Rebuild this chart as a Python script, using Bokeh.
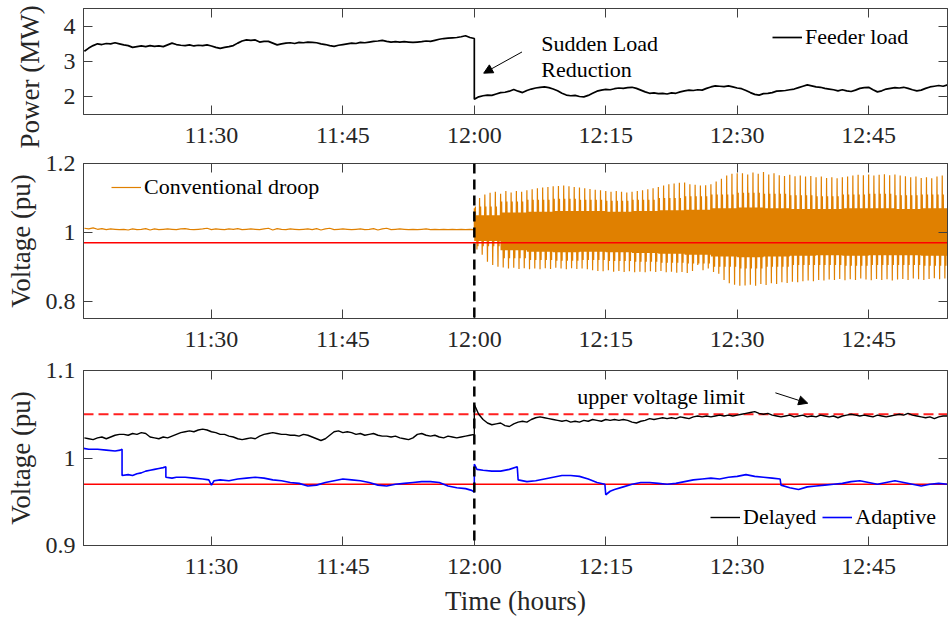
import numpy as np
from bokeh.plotting import figure
from bokeh.layouts import column
from bokeh.models import Range1d, FixedTicker, LinearAxis, Span, Legend, LegendItem, Arrow, NormalHead, Title
from bokeh.core.properties import value
from bokeh.embed import file_html
from bokeh.resources import INLINE

FONT = "Liberation Serif"

# ---------------- data (minutes relative to 12:00) ----------------
tick_minutes = [-30, -15, 0, 15, 30, 45]
tick_labels = ["11:30", "11:45", "12:00", "12:15", "12:30", "12:45"]
x_start, x_end = -44.6, 54.0
sample_step = 0.5

power_pre = [3.29, 3.38, 3.45, 3.50, 3.48, 3.51, 3.50, 3.53, 3.50, 3.47,
             3.45, 3.40, 3.42, 3.44, 3.42, 3.45, 3.43, 3.44, 3.42, 3.47,
             3.52, 3.48, 3.46, 3.45, 3.47, 3.44, 3.46, 3.45, 3.47, 3.44,
             3.40, 3.37, 3.40, 3.42, 3.45, 3.52, 3.58, 3.61, 3.60, 3.61,
             3.55, 3.57, 3.57, 3.52, 3.47, 3.50, 3.52, 3.53, 3.51, 3.54,
             3.53, 3.55, 3.54, 3.53, 3.50, 3.48, 3.45, 3.43, 3.46, 3.48,
             3.50, 3.52, 3.51, 3.54, 3.53, 3.55, 3.57, 3.58, 3.60, 3.57,
             3.55, 3.56, 3.55, 3.56, 3.55, 3.54, 3.55, 3.56, 3.58, 3.57,
             3.60, 3.63, 3.65, 3.66, 3.67, 3.68, 3.70, 3.73, 3.68, 3.65]
power_post = [1.93, 2.00, 2.03, 2.05, 2.04, 2.08, 2.12, 2.13, 2.16, 2.21,
              2.16, 2.12, 2.18, 2.22, 2.25, 2.27, 2.28, 2.26, 2.22, 2.17,
              2.10, 2.05, 2.03, 2.04, 2.01, 2.00, 2.04, 2.10, 2.16, 2.19,
              2.21, 2.20, 2.23, 2.25, 2.24, 2.26, 2.27, 2.24, 2.19, 2.14,
              2.10, 2.11, 2.09, 2.10, 2.08, 2.11, 2.10, 2.14, 2.17, 2.19,
              2.18, 2.20, 2.19, 2.24, 2.28, 2.31, 2.30, 2.29, 2.31, 2.28,
              2.25, 2.23, 2.18, 2.12, 2.07, 2.05, 2.09, 2.10, 2.12, 2.16,
              2.17, 2.18, 2.20, 2.22, 2.26, 2.30, 2.34, 2.31, 2.28, 2.27,
              2.24, 2.22, 2.20, 2.17, 2.20, 2.17, 2.15, 2.19, 2.24, 2.26,
              2.27, 2.20, 2.14, 2.17, 2.22, 2.24, 2.26, 2.25, 2.27, 2.24,
              2.20, 2.17, 2.19, 2.24, 2.28, 2.30, 2.32, 2.30, 2.34]

conv_pre = [1.012, 1.010, 1.013, 1.009, 1.011, 1.008, 1.010, 1.009, 1.008, 1.009,
            1.007, 1.010, 1.008, 1.009, 1.011, 1.007, 1.010, 1.008, 1.009, 1.010,
            1.009, 1.008, 1.010, 1.011, 1.009, 1.008, 1.009, 1.010, 1.012, 1.008,
            1.010, 1.009, 1.008, 1.010, 1.009, 1.011, 1.008, 1.009, 1.010, 1.009,
            1.008, 1.010, 1.012, 1.007, 1.011, 1.009, 1.008, 1.010, 1.009, 1.008,
            1.009, 1.010, 1.008, 1.011, 1.007, 1.010, 1.012, 1.008, 1.009, 1.010,
            1.009, 1.008, 1.009, 1.010, 1.008, 1.009, 1.011, 1.007, 1.010, 1.012,
            1.008, 1.009, 1.010, 1.009, 1.008, 1.009, 1.008, 1.009, 1.010, 1.008,
            1.009, 1.008, 1.009, 1.008, 1.009, 1.008, 1.009, 1.008, 1.009, 1.008]
conv_cycle = 0.6
conv_hi = [1.07, 1.10, 1.11,
           1.115, 1.118, 1.112, 1.12, 1.116, 1.12, 1.118, 1.122,
           1.125, 1.128, 1.13, 1.132, 1.134, 1.135, 1.136, 1.134, 1.132, 1.13,
           1.128, 1.126, 1.124, 1.122, 1.12, 1.118, 1.12, 1.118, 1.116, 1.118,
           1.12, 1.122, 1.125, 1.128, 1.132, 1.136, 1.14, 1.142, 1.144,
           1.145, 1.14, 1.138, 1.136, 1.137, 1.14,
           1.148, 1.156, 1.165, 1.17, 1.172,
           1.172, 1.168, 1.174, 1.17, 1.175, 1.168, 1.172,
           1.166, 1.164, 1.167, 1.163, 1.165, 1.162, 1.164, 1.16, 1.162,
           1.158, 1.16, 1.157, 1.16, 1.162, 1.165,
           1.167, 1.166, 1.168, 1.165, 1.167, 1.169, 1.166, 1.168, 1.165,
           1.163, 1.16, 1.162, 1.158, 1.16, 1.157, 1.162, 1.165]
conv_lo = [0.95, 0.935, 0.915,
           0.905, 0.90, 0.898, 0.895, 0.897, 0.894, 0.896, 0.893,
           0.895, 0.893, 0.896, 0.894, 0.897, 0.895, 0.893, 0.896, 0.894, 0.895,
           0.893, 0.89, 0.888, 0.887, 0.89, 0.886, 0.888, 0.885, 0.887, 0.884,
           0.886, 0.884, 0.887, 0.885, 0.888, 0.884, 0.886, 0.883, 0.885, 0.882,
           0.888, 0.905, 0.89, 0.895, 0.885, 0.88,
           0.862, 0.852, 0.848, 0.845, 0.846, 0.848, 0.845, 0.85, 0.847, 0.852, 0.85,
           0.855, 0.853, 0.857, 0.855, 0.858, 0.86, 0.858, 0.862, 0.86,
           0.863, 0.862, 0.865, 0.861, 0.864, 0.862, 0.866, 0.863, 0.861, 0.865,
           0.862, 0.864, 0.86, 0.863, 0.865, 0.862, 0.866, 0.864, 0.862, 0.865,
           0.867, 0.864, 0.866]
# secondary levels of the oscillation, one value per block of 5 cycles
conv_band_top = [1.05, 1.058, 1.06, 1.062, 1.062, 1.06, 1.062, 1.064, 1.066,
                 1.07, 1.072, 1.07, 1.068, 1.068, 1.07, 1.07, 1.068, 1.07]
conv_band_bot = [0.975, 0.948, 0.944, 0.942, 0.944, 0.942, 0.94, 0.938, 0.935,
                 0.93, 0.928, 0.93, 0.932, 0.934, 0.932, 0.934, 0.934, 0.932]
conv_mid_hi = [1.075, 1.09, 1.095, 1.098, 1.095, 1.092, 1.095, 1.1, 1.105,
               1.11, 1.115, 1.112, 1.108, 1.105, 1.11, 1.112, 1.108, 1.11]
conv_mid_lo = [0.96, 0.925, 0.92, 0.918, 0.92, 0.917, 0.915, 0.912, 0.91,
               0.9, 0.895, 0.9, 0.905, 0.905, 0.903, 0.905, 0.905, 0.903]

delayed_pre = [1.023, 1.022, 1.021, 1.023, 1.024, 1.022, 1.024, 1.026,
               1.027, 1.027, 1.026, 1.028, 1.027, 1.029, 1.028, 1.024,
               1.023, 1.022, 1.024, 1.023, 1.025, 1.027, 1.029,
               1.030, 1.031, 1.030, 1.032, 1.033, 1.032, 1.030, 1.029,
               1.027, 1.027, 1.025, 1.024, 1.022, 1.021, 1.022, 1.023,
               1.022, 1.025, 1.027, 1.028, 1.029, 1.028, 1.027,
               1.027, 1.026, 1.026, 1.025, 1.027, 1.026, 1.024, 1.022,
               1.020, 1.022, 1.026, 1.030, 1.031, 1.029, 1.030,
               1.029, 1.027, 1.028, 1.026, 1.027, 1.028, 1.026, 1.025,
               1.025, 1.024, 1.025, 1.023, 1.022, 1.021, 1.023, 1.027,
               1.028, 1.026, 1.025, 1.026, 1.024, 1.023, 1.025, 1.024,
               1.023, 1.024, 1.025, 1.026, 1.027]
delayed_post = [1.061, 1.050, 1.044, 1.040, 1.038, 1.039, 1.040, 1.037, 1.036, 1.039,
                1.041, 1.042, 1.041, 1.044, 1.046, 1.047, 1.046, 1.045, 1.044, 1.043,
                1.042, 1.043, 1.041, 1.042, 1.041, 1.043, 1.042, 1.044, 1.043, 1.042,
                1.044, 1.043, 1.044, 1.043, 1.044, 1.043, 1.041, 1.040, 1.042, 1.043,
                1.045, 1.044, 1.045, 1.046, 1.045, 1.046, 1.045, 1.047, 1.046, 1.045,
                1.047, 1.048, 1.047, 1.048, 1.047, 1.048, 1.049, 1.048, 1.049, 1.048,
                1.049, 1.050, 1.051, 1.052, 1.053, 1.051, 1.050, 1.051, 1.049, 1.048,
                1.047, 1.048, 1.049, 1.047, 1.048, 1.049, 1.047, 1.048, 1.047, 1.049,
                1.048, 1.047, 1.048, 1.046, 1.048, 1.049, 1.050, 1.049, 1.048, 1.049,
                1.048, 1.047, 1.049, 1.048, 1.047, 1.048, 1.049, 1.050, 1.049, 1.051,
                1.049, 1.048, 1.047, 1.046, 1.047, 1.045, 1.047, 1.048, 1.048]

adaptive_t = [-44.6, -44, -43, -42, -41, -40.4, -40.2, -40.2, -39.5, -39, -38.5, -38, -37.5,
              -37, -36.5, -36, -35.5, -35.2, -35.2, -34.5, -34, -33, -32, -31, -30.3, -30.0,
              -29.7, -29, -28, -27, -26, -25, -24, -23, -22, -21, -20, -19, -18, -17, -16,
              -15, -14, -13, -12, -11, -10, -9, -8, -7, -6, -5, -4, -3, -2, -1, -0.3, 0,
              0, 0.3, 1, 2, 3, 4, 4.9, 5.0, 6, 7, 8, 9, 10, 11, 12, 13, 14, 14.9, 15.0,
              15.5, 16, 17, 18, 19, 20, 21, 22, 23, 24, 25, 26, 27, 28, 29, 30, 31, 32,
              33, 34, 34.9, 35.0, 36, 37, 38, 39, 40, 41, 42, 43, 44, 45, 46, 47, 48,
              49, 50, 51, 52, 53, 54]
adaptive_v = [1.011, 1.010, 1.010, 1.009, 1.008, 1.009, 1.010, 0.980, 0.981, 0.980, 0.982, 0.983, 0.985,
              0.986, 0.987, 0.988, 0.989, 0.990, 0.978, 0.977, 0.978, 0.978, 0.977, 0.976, 0.975, 0.969,
              0.974, 0.975, 0.974, 0.976, 0.977, 0.978, 0.977, 0.975, 0.974, 0.972, 0.971, 0.968, 0.969, 0.972, 0.974,
              0.976, 0.975, 0.974, 0.972, 0.969, 0.968, 0.970, 0.971, 0.972, 0.973, 0.973, 0.972, 0.968, 0.966, 0.965, 0.963, 0.961,
              0.993, 0.987, 0.986, 0.985, 0.985, 0.987, 0.990, 0.975, 0.973, 0.974, 0.976, 0.978, 0.980, 0.980, 0.979, 0.976, 0.972, 0.970, 0.958,
              0.962, 0.964, 0.967, 0.970, 0.972, 0.972, 0.971, 0.970, 0.971, 0.973, 0.975, 0.976, 0.977, 0.976, 0.978, 0.979, 0.981, 0.979,
              0.978, 0.977, 0.976, 0.969, 0.966, 0.964, 0.967, 0.968, 0.969, 0.970, 0.971, 0.973, 0.974, 0.972, 0.970, 0.972, 0.974,
              0.972, 0.970, 0.968, 0.970, 0.971, 0.970]

lower_limit = 0.97
upper_limit = 1.05
event_time = 0.0

sudden_text = ["Sudden Load", "Reduction"]
sudden_text_x = [7.65, 7.65]
sudden_text_y = [3.50, 2.78]
sudden_arrow = (5.44, 3.27, 1.07, 2.67)
upper_text = ["upper voltage limit"]
upper_text_x = [11.76]
upper_text_y = [1.070]
upper_arrow = (34.36, 1.0745, 38.05, 1.0626)

# ---------------- derived series ----------------
t_pre = np.arange(-44.5, 0.0 + 1e-9, sample_step)
t_post = np.arange(0.0, 54.0 + 1e-9, sample_step)
t_full = np.concatenate([t_pre, t_post])
power = np.concatenate([power_pre, power_post])
delayed = np.concatenate([delayed_pre, delayed_post])

conv_t = list(t_pre)
conv_v = list(conv_pre)
for k in range(len(conv_hi)):
    b = k // 5
    seq = [conv_hi[k], conv_band_bot[b], conv_mid_hi[b], conv_band_bot[b], conv_band_top[b],
           conv_lo[k], conv_band_top[b], conv_mid_lo[b], conv_band_top[b], conv_band_bot[b]]
    for j, v in enumerate(seq):
        conv_t.append(k * conv_cycle + j * conv_cycle / len(seq))
        conv_v.append(v)

AX = "#404040"
TXT = "#262626"


def make_fig(height, top, bottom, yr, yticks, ylabels, ylabel, ylabel_standoff, xlabel=None):
    p = figure(width=948, height=height, x_range=Range1d(x_start, x_end),
               y_range=Range1d(*yr), output_backend="svg", toolbar_location=None,
               min_border_left=83, min_border_right=1, min_border_top=top,
               min_border_bottom=bottom)
    p.xgrid.visible = False
    p.ygrid.visible = False
    p.outline_line_color = AX
    p.background_fill_color = "white"
    p.border_fill_color = "white"

    xa = p.xaxis[0]
    xa.ticker = FixedTicker(ticks=tick_minutes)
    xa.major_label_overrides = dict(zip(tick_minutes, tick_labels))
    ya = p.yaxis[0]
    ya.ticker = FixedTicker(ticks=yticks)
    ya.major_label_overrides = dict(zip(yticks, ylabels))
    for a in (xa, ya):
        a.major_tick_in = 9
        a.major_tick_out = 0
        a.minor_tick_line_color = None
        a.axis_line_color = AX
        a.major_tick_line_color = AX
        a.major_label_text_font = FONT
        a.major_label_text_font_size = "24px"
        a.major_label_text_color = TXT
        a.axis_label_text_font = FONT
        a.axis_label_text_font_size = "27px"
        a.axis_label_text_font_style = "normal"
        a.axis_label_text_color = TXT
    xa.major_label_standoff = 7
    ya.major_label_standoff = 8
    if ylabel:
        ya.axis_label = ylabel
        ya.axis_label_standoff = ylabel_standoff
    if xlabel:
        xa.axis_label = xlabel
        xa.axis_label_standoff = 4

    top_ax = LinearAxis(ticker=FixedTicker(ticks=tick_minutes))
    right_ax = LinearAxis(ticker=FixedTicker(ticks=yticks))
    for a in (top_ax, right_ax):
        a.major_tick_in = 9
        a.major_tick_out = 0
        a.minor_tick_line_color = None
        a.axis_line_color = AX
        a.major_tick_line_color = AX
        a.major_label_text_font_size = "0px"
        a.major_label_text_alpha = 0
        a.major_label_standoff = 0
    p.add_layout(top_ax, "above")
    p.add_layout(right_ax, "right")
    return p


def make_legend(items, loc, orientation="vertical"):
    return Legend(items=items, location=loc, orientation=orientation,
                  border_line_color=None, background_fill_alpha=0,
                  padding=0, margin=0, spacing=6, glyph_width=30, glyph_height=22,
                  label_height=22, label_standoff=3, label_text_font=FONT,
                  label_text_font_size="22px", label_text_color="black")


# ---------------- top: power ----------------
p1 = make_fig(150, 8, 34, (1.5, 4.5), [2, 3, 4], ["2", "3", "4"], None, 0)
p1.add_layout(Title(text="Power (MW)", align="left", offset=-34, standoff=28,
                    vertical_align="top",
                    text_font=FONT, text_font_size="27px", text_font_style="normal",
                    text_color=TXT), "left")
r_pow = p1.line(t_full, power, line_color="black", line_width=1.7)
p1.text(x=sudden_text_x, y=sudden_text_y, text=sudden_text, text_font=value(FONT),
        text_font_size="22px", text_align="left", text_baseline="alphabetic", text_color="black")
p1.add_layout(Arrow(end=NormalHead(size=9, fill_color="black", line_color="black"),
                    x_start=sudden_arrow[0], y_start=sudden_arrow[1],
                    x_end=sudden_arrow[2], y_end=sudden_arrow[3], line_width=1))
p1.add_layout(make_legend([LegendItem(label=value("Feeder load"), renderers=[r_pow])], (689, 64)))

# ---------------- middle: conventional droop ----------------
p2 = make_fig(205, 13, 37, (0.75, 1.2), [0.8, 1.0, 1.2], ["0.8", "1", "1.2"], "Voltage (pu)", 7)
r_conv = p2.line(conv_t, conv_v, line_color="#E08000", line_width=1.2)
p2.line([x_start, x_end], [lower_limit, lower_limit], line_color="red", line_width=1.5)
p2.add_layout(Span(location=event_time, dimension="height", line_color="black",
                   line_dash="10 6", line_width=2.5))
p2.add_layout(make_legend([LegendItem(label=value("Conventional droop"), renderers=[r_conv])], (28, 118)))

# ---------------- bottom: delayed / adaptive ----------------
p3 = make_fig(263, 15, 70, (0.9, 1.1), [0.9, 1.0, 1.1], ["0.9", "1", "1.1"], "Voltage (pu)", 7,
              xlabel="Time (hours)")
p3.line([x_start, x_end], [upper_limit, upper_limit], line_color="#FF2020", line_width=2, line_dash="10 5")
p3.line([x_start, x_end], [lower_limit, lower_limit], line_color="red", line_width=1.5)
r_del = p3.line(t_full, delayed, line_color="black", line_width=1.4)
r_ada = p3.line(adaptive_t, adaptive_v, line_color="blue", line_width=1.6)
p3.add_layout(Span(location=event_time, dimension="height", line_color="black",
                   line_dash="10 6", line_width=2.5))
p3.text(x=upper_text_x, y=upper_text_y, text=upper_text, text_font=value(FONT),
        text_font_size="22px", text_align="left", text_baseline="alphabetic", text_color="black")
p3.add_layout(Arrow(end=NormalHead(size=9, fill_color="black", line_color="black"),
                    x_start=upper_arrow[0], y_start=upper_arrow[1],
                    x_end=upper_arrow[2], y_end=upper_arrow[3], line_width=1))
p3.add_layout(make_legend([LegendItem(label=value("Delayed"), renderers=[r_del]),
                           LegendItem(label=value("Adaptive"), renderers=[r_ada])],
                          (627, 15), orientation="horizontal"))

layout = column(p1, p2, p3, spacing=0)
open("out.html", "w").write(file_html(layout, INLINE))
